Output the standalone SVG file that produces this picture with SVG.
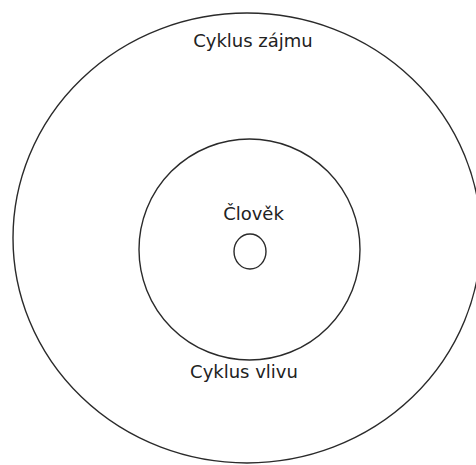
<svg xmlns="http://www.w3.org/2000/svg" width="476" height="465" viewBox="0 0 476 465">
<style>
.ring{fill:none;stroke:#2a2a2a;stroke-width:1.4}
.lbl{font-family:"DejaVu Sans",sans-serif;font-size:18px;fill:#222;text-anchor:middle}
</style>
<rect width="476" height="465" fill="#fff"/>
<g id="cyklus-zajmu">
<ellipse class="ring" cx="247" cy="238" rx="234" ry="225"/>
<text class="lbl" x="253" y="47">Cyklus zájmu</text>
</g>
<g id="cyklus-vlivu">
<circle class="ring" cx="249.5" cy="249.5" r="110.5"/>
<text class="lbl" x="244" y="378">Cyklus vlivu</text>
</g>
<g id="clovek">
<ellipse class="ring" cx="250" cy="251.5" rx="16" ry="17.5"/>
<text class="lbl" x="253.5" y="220">Člověk</text>
</g>
<g id="connectors"/>
</svg>
